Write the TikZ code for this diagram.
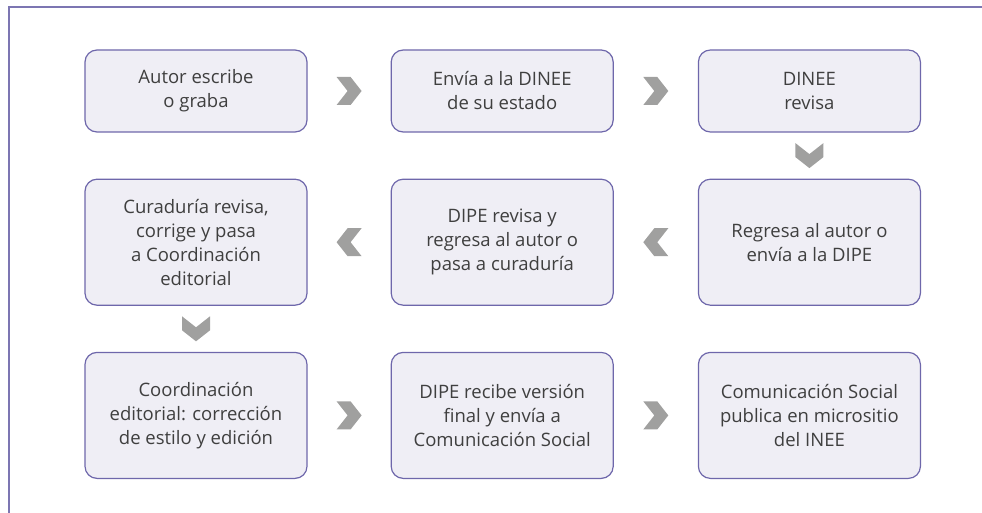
\documentclass[tikz,border=0pt]{standalone}
\usepackage{fontspec}
\setmainfont{Open Sans}
\usetikzlibrary{positioning,calc}

\definecolor{marco}{HTML}{7C76B2}
\definecolor{caja}{HTML}{EFEEF5}
\definecolor{borde}{HTML}{6E67AB}
\definecolor{gris}{HTML}{A0A09F}
\definecolor{texto}{HTML}{3F3F3F}

\tikzset{
  paso/.style={draw=borde, fill=caja, line width=1.2pt, rounded corners=12pt,
    minimum width=222pt, minimum height=126pt, align=center, text=texto,
    font=\fontsize{18.5}{24}\selectfont},
  pasocorto/.style={paso, minimum height=82pt},
  flechagris/.style={fill=gris},
}

% flecha gris entre dos nodos
\newcommand{\flechaentre}[3]{%
  \fill[flechagris, shift={($(#1)!0.5!(#2)$)}, rotate=#3]
    (-12.5,-14) -- (1.5,-14) -- (12.5,0) -- (1.5,14) -- (-12.5,14) -- (-1.5,0) -- cycle;}

\begin{document}
\begin{tikzpicture}[x=1pt, y=-1pt]
    \useasboundingbox (0,0) rectangle (982,513);

    % Marco
    \draw[marco, line width=1.5pt] (9,513) -- (9,7) -- (982,7);

    % Primera fila
    \node[pasocorto] (escribe) at (196,91) {Autor escribe\\o graba};
    \node[pasocorto, right=83pt of escribe] (envia) {Envía a la DINEE\\de su estado};
    \node[pasocorto, right=84pt of envia] (revisa) {DINEE\\revisa};

    % Segunda fila
    \node[paso, below=46pt of revisa] (regresa) {Regresa al autor o\\envía a la DIPE};
    \node[paso, left=84pt of regresa] (dipe) {DIPE revisa y\\regresa al autor o\\pasa a curaduría};
    \node[paso, left=83pt of dipe] (curaduria) {Curaduría revisa,\\corrige y pasa\\a Coordinación\\editorial};

    % Tercera fila
    \node[paso, below=46pt of curaduria] (coord) {Coordinación\\editorial: corrección\\de estilo y edición};
    \node[paso, right=83pt of coord] (version) {DIPE recibe versión\\final y envía a\\Comunicación Social};
    \node[paso, right=84pt of version] (publica) {Comunicación Social\\publica en micrositio\\del INEE};

    % Flechas
    \flechaentre{escribe.east}{envia.west}{0}
    \flechaentre{envia.east}{revisa.west}{0}
    \flechaentre{revisa.south}{regresa.north}{-90}
    \flechaentre{regresa.west}{dipe.east}{180}
    \flechaentre{dipe.west}{curaduria.east}{180}
    \flechaentre{curaduria.south}{coord.north}{-90}
    \flechaentre{coord.east}{version.west}{0}
    \flechaentre{version.east}{publica.west}{0}

\end{tikzpicture}
\end{document}
